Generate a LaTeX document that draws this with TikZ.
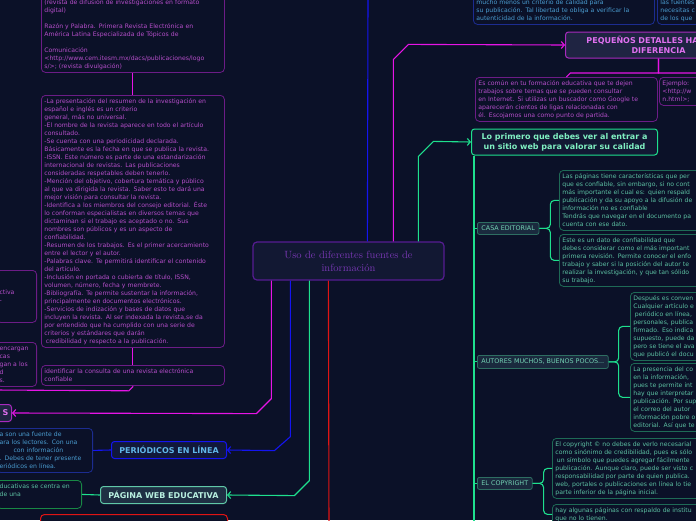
\documentclass[tikz,border=0pt]{standalone}
\usepackage{fontspec}
\usepackage{xcolor}
\usepackage{tikz}
\usetikzlibrary{arrows.meta,positioning,calc}
\newfontfamily\mapfont{DejaVu Sans}
\definecolor{bg}{HTML}{0B1128}
\definecolor{magline}{HTML}{E614E6}
\definecolor{blueline}{HTML}{1414F0}
\definecolor{greenline}{HTML}{1EE08E}
\definecolor{redline}{HTML}{E01414}
\definecolor{plumdraw}{HTML}{6C1C86}
\definecolor{plumtext}{HTML}{B54ECA}
\definecolor{centerdraw}{HTML}{561C92}
\definecolor{centertext}{HTML}{7838B4}
\definecolor{centerfill}{HTML}{121833}
\definecolor{pinkfill}{HTML}{1F2442}
\definecolor{pinkdraw}{HTML}{A82ABE}
\definecolor{pinktext}{HTML}{E070F0}
\definecolor{navydraw}{HTML}{1C2C90}
\definecolor{navytext}{HTML}{4A9CD0}
\definecolor{tealdraw}{HTML}{1E6A56}
\definecolor{tealtext}{HTML}{5CC0A2}
\definecolor{tagfill}{HTML}{1A2A3E}
\definecolor{tagdraw}{HTML}{2E6E62}
\definecolor{tagtext}{HTML}{74D2B4}
\definecolor{mint}{HTML}{80F0C2}
\definecolor{skyfill}{HTML}{11183A}
\definecolor{skytext}{HTML}{60B6E8}
\definecolor{webfill}{HTML}{1F3044}
\definecolor{webdraw}{HTML}{60C8A8}
\definecolor{webtext}{HTML}{B8F0E0}
\newcommand{\leaffont}{\mapfont\fontsize{6.15}{8}\selectfont}
\newcommand{\tagfont}{\mapfont\fontsize{6.4}{8}\selectfont}
\newcommand{\headfont}{\mapfont\bfseries\fontsize{8}{10}\selectfont}

\begin{document}
\begin{tikzpicture}[
    x=1pt, y=-1pt,
    leaf/.style={rectangle, rounded corners=4pt, line width=0.8pt, fill=bg,
                 align=left, font=\leaffont, inner xsep=3pt, inner ysep=2pt,
                 execute at begin node=\strut, execute at end node=\strut},
    plumleaf/.style={leaf, draw=plumdraw, text=plumtext},
    navyleaf/.style={leaf, draw=navydraw, text=navytext},
    tealleaf/.style={leaf, draw=tealdraw, text=tealtext},
    tag/.style={rectangle, rounded corners=2pt, line width=0.8pt, fill=tagfill,
                draw=tagdraw, text=tagtext, font=\tagfont, inner xsep=4pt,
                inner ysep=0pt, minimum height=12pt, anchor=north west},
    topic/.style={rectangle, rounded corners=3pt, line width=1pt,
                  font=\headfont, align=center, inner sep=3pt},
    link/.style={line width=1.1pt},
    arrow/.style={link, -{Straight Barb[length=3pt,width=7pt]}},
]
\useasboundingbox (0,0) rectangle (696,520);
\fill[bg] (0,0) rectangle (696,520);
\clip (0,0) rectangle (696,520);

\node[rectangle, rounded corners=4pt, line width=1.2pt, draw=centerdraw,
      fill=centerfill, text=centertext, align=center,
      font=\fontsize{10.5}{13}\selectfont, minimum width=191pt,
      minimum height=38pt] (cnode) at (348.5,261)
      {Uso de diferentes fuentes de\\información};

\node[plumleaf, text width=177pt, anchor=north west] (lbox1) at (41,-12)
  {\mbox{}\\
   (revista de difusión de investigaciones en formato\\
   digital)\\
   \mbox{}\\
   Razón y Palabra. Primera Revista Electrónica en\\
   América Latina Especializada de Tópicos de\\
   \mbox{}\\
   Comunicación\\
   <http://www.cem.itesm.mx/dacs/publicaciones/logo\\
   s/>; (revista divulgación)};
\node[plumleaf, text width=177pt, anchor=north west] (lbox2) at (41,95)
  {-La presentación del resumen de la investigación en\\
   español e inglés es un criterio\\
   general, más no universal.\\
   -El nombre de la revista aparece en todo el artículo\\
   consultado.\\
   -Se cuenta con una periodicidad declarada.\\
   Básicamente es la fecha en que se publica la revista.\\
   -ISSN. Este número es parte de una estandarización\\
   internacional de revistas. Las publicaciones\\
   consideradas respetables deben tenerlo.\\
   -Mención del objetivo, cobertura temática y público\\
   al que va dirigida la revista. Saber esto te dará una\\
   mejor visión para consultar la revista.\\
   -Identifica a los miembros del consejo editorial. Éste\\
   lo conforman especialistas en diversos temas que\\
   dictaminan si el trabajo es aceptado o no. Sus\\
   nombres son públicos y es un aspecto de\\
   confiabilidad.\\
   -Resumen de los trabajos. Es el primer acercamiento\\
   entre el lector y el autor.\\
   -Palabras clave. Te permitirá identificar el contenido\\
   del artículo.\\
   -Inclusión en portada o cubierta de título, ISSN,\\
   volumen, número, fecha y membrete.\\
   -Bibliografía. Te permite sustentar la información,\\
   principalmente en documentos electrónicos.\\
   -Servicios de indización y bases de datos que\\
   incluyen la revista. Al ser indexada la revista,se da\\
   por entendido que ha cumplido con una serie de\\
   criterios y estándares que darán\\
   \hspace*{1.5pt}credibilidad y respecto a la publicación.};
\node[plumleaf, text width=177pt, anchor=north west] (lbox3) at (41,365)
  {identificar la consulta de una revista electrónica\\confiable};
\node[plumleaf, text width=34pt, anchor=north east] (lcut1) at (37,270)
  {\mbox{}\\\mbox{}\\ctiva\\-\\\mbox{}\\\mbox{}};
\node[plumleaf, text width=34pt, anchor=north east] (lcut2) at (37,342)
  {encargan\\cas\\gan a los\\d\\s.};
\coordinate (leftend) at (-5,390);

\node[topic, draw=pinkdraw, fill=pinkfill, text=pinktext, text width=20pt,
      align=right, minimum height=17pt, anchor=east] (snode) at (12,413) {S};
\node[topic, draw=blueline, fill=skyfill, text=skytext, minimum width=115pt,
      minimum height=17pt, anchor=east] (pnode) at (227,450)
      {PERIÓDICOS EN LÍNEA};
\node[navyleaf, text width=90pt, anchor=north east] (pbox) at (93,428)
  {a son una fuente de\\
   ara los lectores. Con una\\
   \hspace*{14pt}con información\\
   . Debes de tener presente\\
   eriódicos en línea.};
\node[topic, draw=webdraw, fill=webfill, text=webtext, minimum width=126pt,
      minimum height=17pt, anchor=east] (wnode) at (227,495)
      {PÁGINA WEB EDUCATIVA};
\node[tealleaf, draw=tealdraw!80!green, text width=79pt, anchor=north east]
  (wbox) at (82,480) {ducativas se centra en\\de una\\\mbox{}};
\node[rectangle, rounded corners=4pt, line width=1pt, draw=redline, fill=bg,
      minimum width=187pt, minimum height=20pt, anchor=north west]
      (rnode) at (40,514) {};
\coordinate (redend) at (329,530);

\node[navyleaf, text width=175pt, anchor=north west] (tbox1) at (473,-12)
  {\mbox{}\\
   mucho menos un criterio de calidad para\\
   su publicación. Tal libertad te obliga a verificar la\\
   autenticidad de la información.};
\node[navyleaf, text width=60pt, anchor=north west] (tbox2) at (657,-12)
  {\mbox{}\\las fuentes\\necesitas c\\de los que};
\coordinate (blueend) at (368,-5);

\node[topic, draw=pinkdraw, fill=pinkfill, text=pinktext, text width=166pt,
      minimum width=186pt, minimum height=26pt, anchor=west] (dnode)
      at (565,45) {PEQUEÑOS DETALLES HA\phantom{CEN LA}\\DIFERENCIA};
\node[plumleaf, text width=176pt, anchor=north west] (pbox1) at (475,77)
  {Es común en tu formación educativa que te dejen\\
   trabajos sobre temas que se pueden consultar\\
   en Internet. Si utilizas un buscador como Google te\\
   aparecerán cientos de ligas relacionadas con\\
   él. Escojamos una como punto de partida.};
\node[plumleaf, text width=100pt, anchor=north west] (pbox2) at (659,77)
  {Ejemplo:\\<http://w\\n.html>;};

\node[topic, draw=greenline, fill=centerfill, text=mint, minimum width=186pt,
      minimum height=26pt, anchor=west] (fnode) at (471,142)
      {Lo primero que debes ver al entrar a\\un sitio web para valorar su calidad};
\coordinate (spineend) at (474,530);

\node[tag] (casa) at (477,222) {CASA EDITORIAL};
\node[tag, minimum height=13pt] (autores) at (477,355)
  {AUTORES MUCHOS, BUENOS POCOS...};
\node[tag] (copy) at (477,477) {EL COPYRIGHT};

\node[tealleaf, text width=200pt, anchor=north west] (cbox1) at (559,170)
  {Las páginas tiene características que per\\
   que es confiable, sin embargo, si no cont\\
   más importante el cual es: quien respald\\
   publicación y da su apoyo a la difusión de\\
   información no es confiable\\
   Tendrás que navegar en el documento pa\\
   cuenta con ese dato.};
\node[tealleaf, text width=200pt, anchor=north west] (cbox2) at (559,234)
  {Este es un dato de confiabilidad que\\
   debes considerar como el más important\\
   primera revisión. Permite conocer el enfo\\
   trabajo y saber si la posición del autor te\\
   realizar la investigación, y que tan sólido\\
   su trabajo.};
\node[tealleaf, text width=150pt, anchor=north west] (abox1) at (630,292)
  {Después es conven\\
   Cualquier artículo e\\
   \hspace*{1.5pt}periódico en línea,\\
   personales, publica\\
   firmado. Eso indica\\
   supuesto, puede da\\
   pero se tiene el ava\\
   que publicó el docu};
\node[tealleaf, text width=150pt, anchor=north west] (abox2) at (630,363)
  {La presencia del co\\
   en la información,\\
   pues te permite int\\
   hay que interpretar\\
   publicación. Por sup\\
   el correo del autor\\
   información pobre o\\
   editorial. Así que te};
\node[tealleaf, text width=200pt, anchor=north west] (ybox1) at (552,438)
  {El copyright © no debes de verlo necesarial\\
   como sinónimo de credibilidad, pues es sólo\\
   \hspace*{1.5pt}un símbolo que puedes agregar fácilmente\\
   publicación. Aunque claro, puede ser visto c\\
   responsabilidad por parte de quien publica.\\
   web, portales o publicaciones en línea lo tie\\
   parte inferior de la página inicial.};
\node[tealleaf, text width=200pt, anchor=north west] (ybox2) at (552,504)
  {hay algunas páginas con respaldo de institu\\
   que no lo tienen.};

\draw[link, magline] (lbox1.south) -- (lbox2.north);
\draw[link, magline] (lbox2.south) -- (lbox3.north);
\draw[link, magline] (lbox3.south) -- ++(0,1) -- ++(-4,4) -- (leftend);
\draw[arrow, magline] ($(cnode.south west)+(19,0)$) -- ++(0,118) -- ++(-15,15) -- (snode.east);
\draw[arrow, blueline] ($(cnode.south west)+(38,0)$) -- ++(0,156) -- ++(-16,14) -- (pnode.east);
\draw[link, blueline] (pnode.west) -- (pbox.east);
\draw[arrow, greenline] ($(cnode.south west)+(57,0)$) -- ++(0,200) -- ++(-15,15) -- (wnode.east);
\draw[link, greenline] (wnode.west) -- (wbox.east);
\draw[link, redline] ($(cnode.south west)+(76,0)$) -- (redend);
\draw[link, blueline] ($(cnode.north west)+(115,0)$) -- (blueend);
\draw[arrow, magline] ($(cnode.north west)+(141,0)$) -- ++(0,-182) -- ++(15,-15) -- (dnode.west);
\draw[link, magline] (dnode.south) |- ($(pbox1.north)+(4,-4)$) -- (pbox1.north);
\draw[link, magline] (dnode.south) |- ($(pbox2.north)+(-4,-4)$) -- (pbox2.north);
\draw[arrow, greenline] ($(cnode.north west)+(166,0)$) -- ++(0,-85) -- ++(15,-15) -- (fnode.west);
\draw[link, greenline] ($(fnode.south west)+(3,0)$) -- (spineend);
\draw[link, greenline] (casa.west) -- (casa.west -| spineend);
\draw[link, greenline] (autores.west) -- (autores.west -| spineend);
\draw[link, greenline] (copy.west) -- (copy.west -| spineend);
\draw[link, greenline, rounded corners=4pt] (casa.east) -- ++(11,0) |- (cbox1.west);
\draw[link, greenline, rounded corners=4pt] (casa.east) -- ++(11,0) |- (cbox2.west);
\draw[link, greenline, rounded corners=4pt] (autores.east) -- ++(10,0) |- (abox1.west);
\draw[link, greenline, rounded corners=4pt] (autores.east) -- ++(10,0) |- (abox2.west);
\draw[link, greenline, rounded corners=4pt] (copy.east) -- ++(11,0) |- (ybox1.west);
\draw[link, greenline, rounded corners=4pt] (copy.east) -- ++(11,0) |- (ybox2.west);

\end{tikzpicture}
\end{document}
